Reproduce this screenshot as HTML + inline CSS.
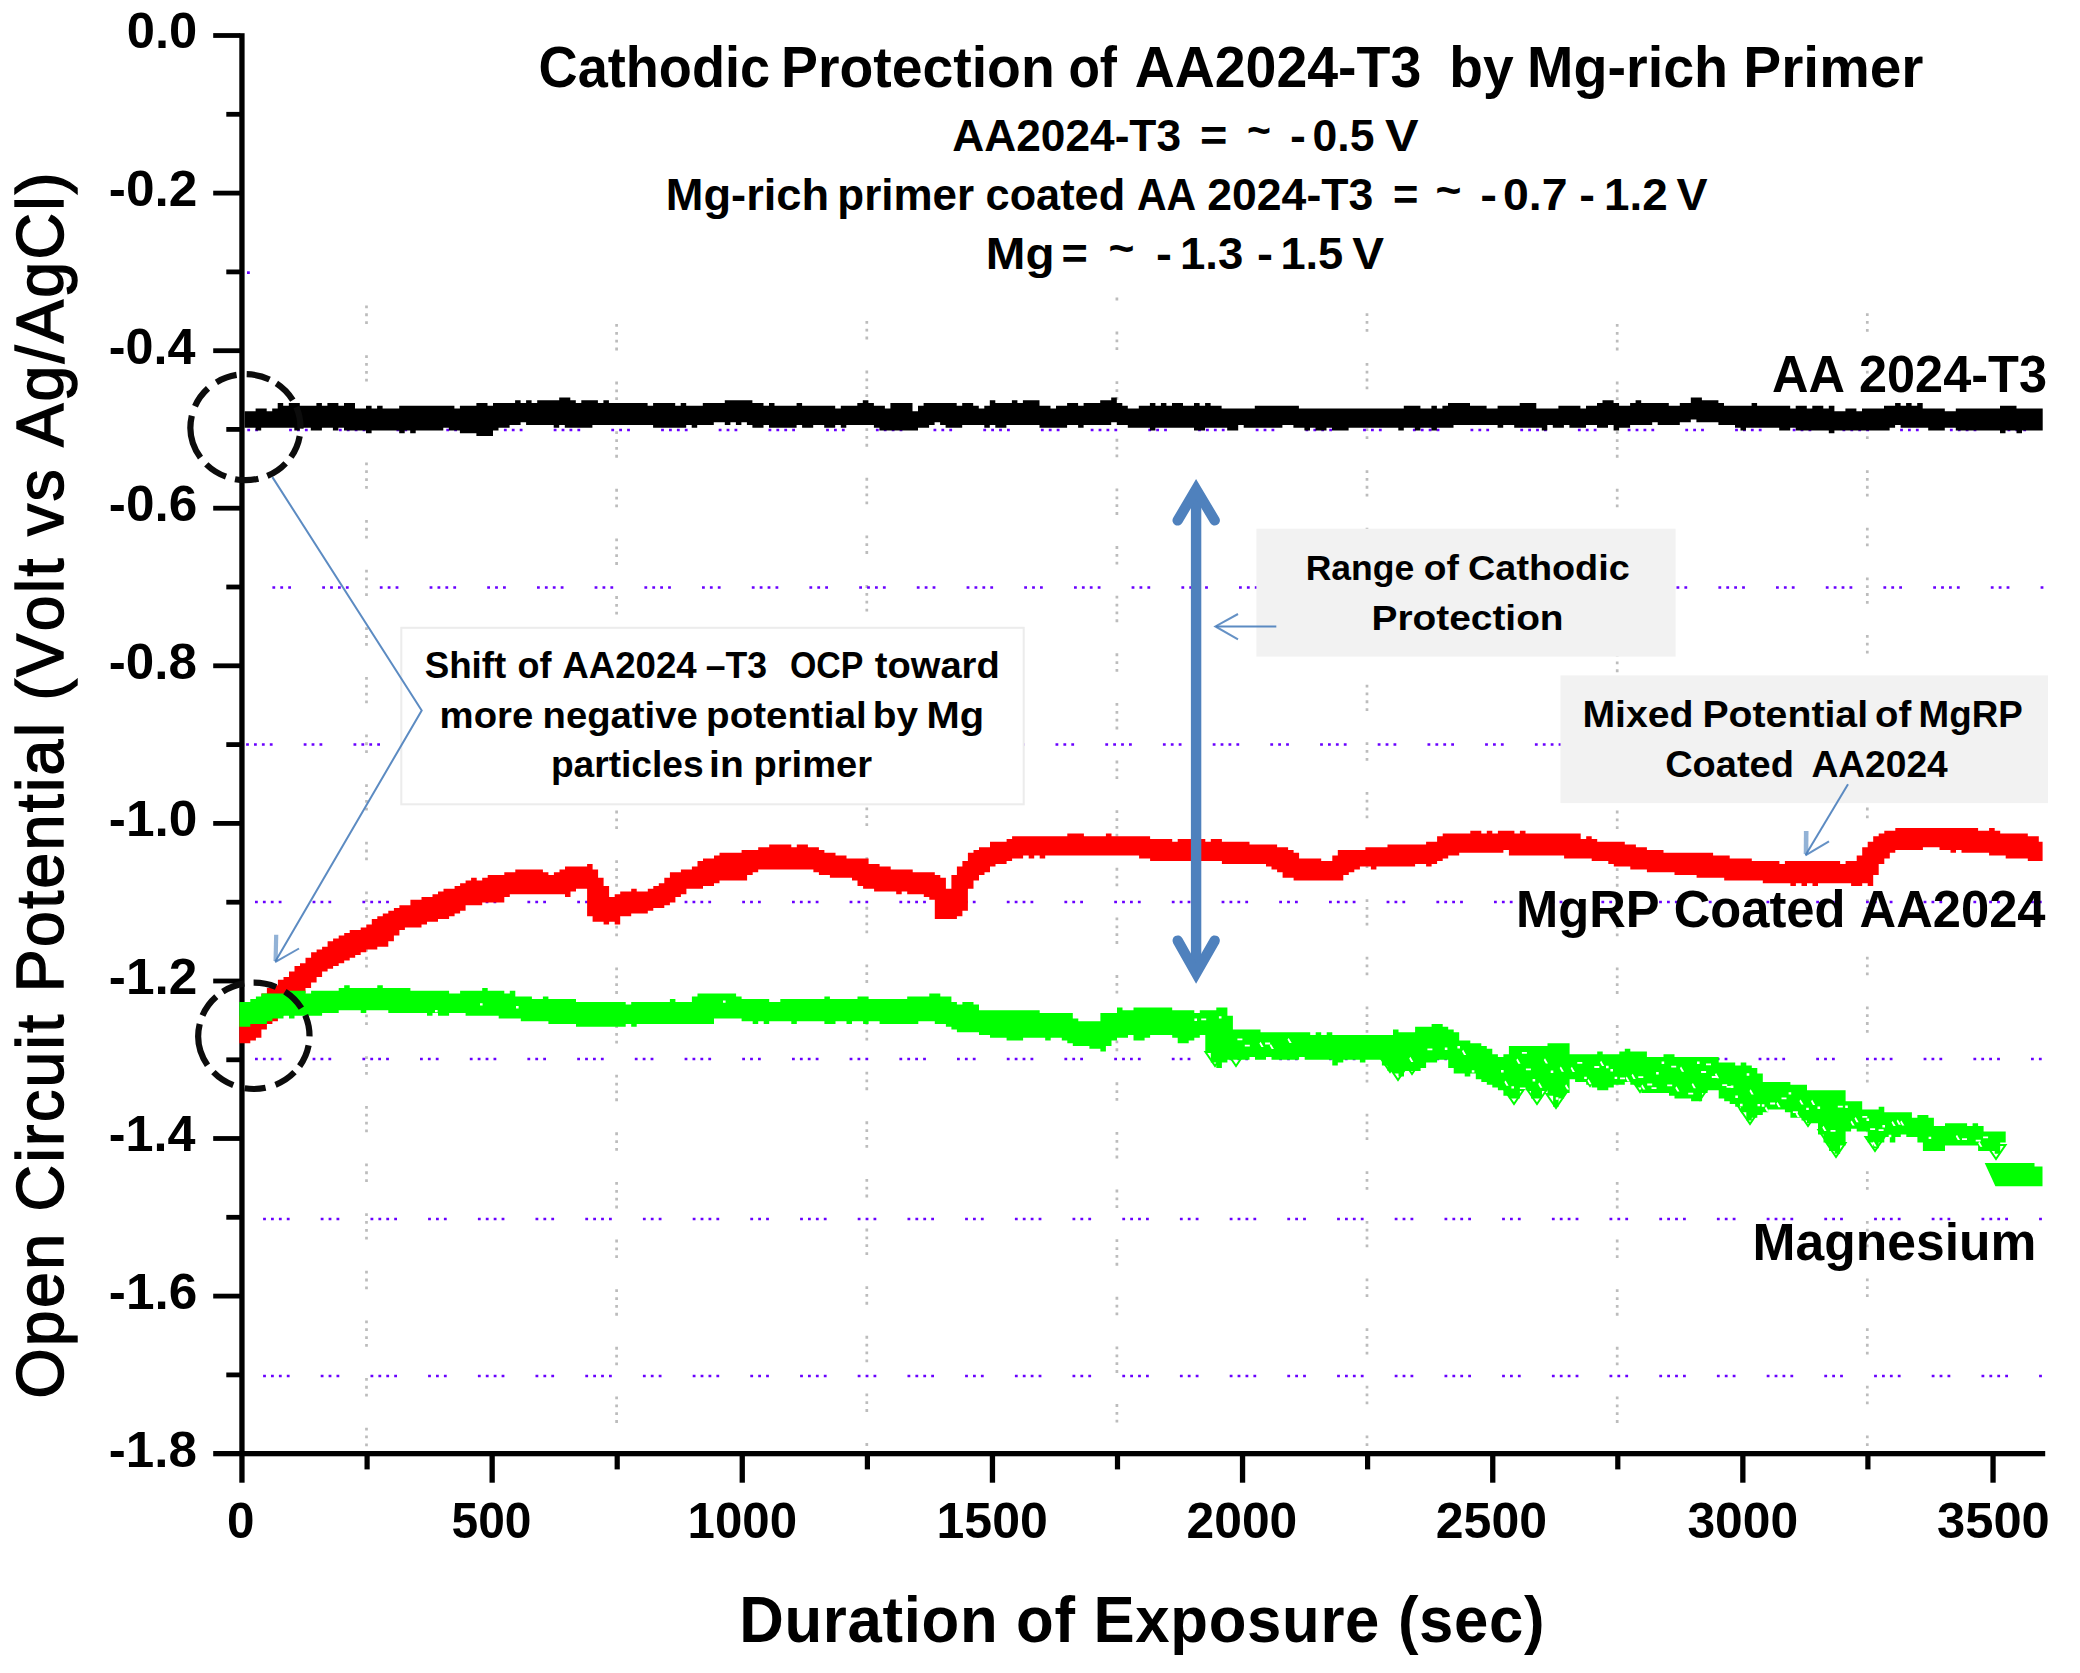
<!DOCTYPE html>
<html lang="en"><head><meta charset="utf-8"><title>Cathodic Protection of AA2024-T3 by Mg-rich Primer</title>
<style>html,body{margin:0;padding:0;background:#fff;width:2080px;height:1673px;overflow:hidden}svg{display:block}text{font-kerning:none}.ab{font-family:"Liberation Sans",Arial,sans-serif;font-weight:bold;fill:#000}.ar{font-family:"Liberation Sans",Arial,sans-serif;font-weight:normal;fill:#000}.cb{font-family:"Liberation Sans",Arial,sans-serif;font-weight:bold;fill:#000}</style></head><body>
<svg width="2080" height="1673" viewBox="0 0 2080 1673">
<rect width="2080" height="1673" fill="#fff"/>
<g id="grid" fill="none">
<line x1="366.5" y1="295.0" x2="366.5" y2="1451" stroke="#bcbcbc" stroke-width="2.7" stroke-dasharray="2.8 5.05 2.8 5.05 2.8 31.2 2.8 5.05 2.8 5.05 2.8 5.05 2.8 31.2" stroke-dashoffset="96.75"/>
<line x1="616.6" y1="295.0" x2="616.6" y2="1451" stroke="#bcbcbc" stroke-width="2.7" stroke-dasharray="2.8 5.05 2.8 5.05 2.8 31.2 2.8 5.05 2.8 5.05 2.8 5.05 2.8 31.2" stroke-dashoffset="20.65"/>
<line x1="866.8" y1="295.0" x2="866.8" y2="1451" stroke="#bcbcbc" stroke-width="2.7" stroke-dasharray="2.8 5.05 2.8 5.05 2.8 31.2 2.8 5.05 2.8 5.05 2.8 5.05 2.8 31.2" stroke-dashoffset="81.35"/>
<line x1="1116.9" y1="295.0" x2="1116.9" y2="1451" stroke="#bcbcbc" stroke-width="2.7" stroke-dasharray="2.8 5.05 2.8 5.05 2.8 31.2 2.8 5.05 2.8 5.05 2.8 5.05 2.8 31.2" stroke-dashoffset="70.65"/>
<line x1="1367.0" y1="295.0" x2="1367.0" y2="1451" stroke="#bcbcbc" stroke-width="2.7" stroke-dasharray="2.8 5.05 2.8 5.05 2.8 31.2 2.8 5.05 2.8 5.05 2.8 5.05 2.8 31.2" stroke-dashoffset="89.05"/>
<line x1="1617.2" y1="295.0" x2="1617.2" y2="1451" stroke="#bcbcbc" stroke-width="2.7" stroke-dasharray="2.8 5.05 2.8 5.05 2.8 31.2 2.8 5.05 2.8 5.05 2.8 5.05 2.8 31.2" stroke-dashoffset="20.65"/>
<line x1="1867.3" y1="295.0" x2="1867.3" y2="1451" stroke="#bcbcbc" stroke-width="2.7" stroke-dasharray="2.8 5.05 2.8 5.05 2.8 31.2 2.8 5.05 2.8 5.05 2.8 5.05 2.8 31.2" stroke-dashoffset="89.05"/>
<line x1="245.0" y1="430.0" x2="2045" y2="430.0" stroke="#6a00ff" stroke-width="2.7" stroke-dasharray="2.8 5.1 2.8 5.1 2.8 5.1 2.8 31.1 2.8 5.1 2.8 5.1 2.8 31.2" stroke-dashoffset="13.50"/>
<line x1="245.0" y1="587.5" x2="2045" y2="587.5" stroke="#6a00ff" stroke-width="2.7" stroke-dasharray="2.8 5.1 2.8 5.1 2.8 5.1 2.8 31.1 2.8 5.1 2.8 5.1 2.8 31.2" stroke-dashoffset="30.20"/>
<line x1="245.0" y1="744.5" x2="2045" y2="744.5" stroke="#6a00ff" stroke-width="2.7" stroke-dasharray="2.8 5.1 2.8 5.1 2.8 5.1 2.8 31.1 2.8 5.1 2.8 5.1 2.8 31.2" stroke-dashoffset="106.30"/>
<line x1="245.0" y1="902.0" x2="2045" y2="902.0" stroke="#6a00ff" stroke-width="2.7" stroke-dasharray="2.8 5.1 2.8 5.1 2.8 5.1 2.8 31.1 2.8 5.1 2.8 5.1 2.8 31.2" stroke-dashoffset="97.40"/>
<line x1="245.0" y1="1059.0" x2="2045" y2="1059.0" stroke="#6a00ff" stroke-width="2.7" stroke-dasharray="2.8 5.1 2.8 5.1 2.8 5.1 2.8 31.1 2.8 5.1 2.8 5.1 2.8 31.2" stroke-dashoffset="97.40"/>
<line x1="245.0" y1="1219.0" x2="2045" y2="1219.0" stroke="#6a00ff" stroke-width="2.7" stroke-dasharray="2.8 5.1 2.8 5.1 2.8 5.1 2.8 31.1 2.8 5.1 2.8 5.1 2.8 31.2" stroke-dashoffset="89.30"/>
<line x1="245.0" y1="1376.0" x2="2045" y2="1376.0" stroke="#6a00ff" stroke-width="2.7" stroke-dasharray="2.8 5.1 2.8 5.1 2.8 5.1 2.8 31.1 2.8 5.1 2.8 5.1 2.8 31.2" stroke-dashoffset="89.30"/>
<rect x="247" y="271.3" width="2.8" height="2.7" fill="#6a00ff"/>
</g>
<g id="axes" fill="#000">
<rect x="239.3" y="33.2" width="5.3" height="1449.5"/>
<rect x="213.2" y="1451" width="1832" height="5.3"/>
<rect x="213.2" y="33.1" width="27" height="4.8"/>
<rect x="226.3" y="111.9" width="14" height="4.8"/>
<rect x="213.2" y="190.7" width="27" height="4.8"/>
<rect x="226.3" y="269.5" width="14" height="4.8"/>
<rect x="213.2" y="348.3" width="27" height="4.8"/>
<rect x="226.3" y="427.0" width="14" height="4.8"/>
<rect x="213.2" y="505.8" width="27" height="4.8"/>
<rect x="226.3" y="584.6" width="14" height="4.8"/>
<rect x="213.2" y="663.4" width="27" height="4.8"/>
<rect x="226.3" y="742.2" width="14" height="4.8"/>
<rect x="213.2" y="821.0" width="27" height="4.8"/>
<rect x="226.3" y="899.8" width="14" height="4.8"/>
<rect x="213.2" y="978.6" width="27" height="4.8"/>
<rect x="226.3" y="1057.4" width="14" height="4.8"/>
<rect x="213.2" y="1136.1" width="27" height="4.8"/>
<rect x="226.3" y="1214.9" width="14" height="4.8"/>
<rect x="213.2" y="1293.7" width="27" height="4.8"/>
<rect x="226.3" y="1372.5" width="14" height="4.8"/>
<rect x="489.5" y="1455" width="5.3" height="27.7"/>
<rect x="739.6" y="1455" width="5.3" height="27.7"/>
<rect x="989.8" y="1455" width="5.3" height="27.7"/>
<rect x="1239.9" y="1455" width="5.3" height="27.7"/>
<rect x="1490.1" y="1455" width="5.3" height="27.7"/>
<rect x="1740.2" y="1455" width="5.3" height="27.7"/>
<rect x="1990.4" y="1455" width="5.3" height="27.7"/>
<rect x="364.5" y="1455" width="5.2" height="14.4"/>
<rect x="614.6" y="1455" width="5.2" height="14.4"/>
<rect x="864.8" y="1455" width="5.2" height="14.4"/>
<rect x="1114.9" y="1455" width="5.2" height="14.4"/>
<rect x="1365.0" y="1455" width="5.2" height="14.4"/>
<rect x="1615.2" y="1455" width="5.2" height="14.4"/>
<rect x="1865.3" y="1455" width="5.2" height="14.4"/>
</g>
<g id="data">
<path d="M244.6 411.2H250.1H255.6V408.5H261.2H266.7V411.2H272.2V408.5H277.7V403.0H283.2V405.7H288.8V403.0H294.3H299.8V405.7H305.3H310.8H316.4V403.0H321.9V405.7H327.4V403.0H332.9H338.4V405.7H344.0V403.0H349.5H355.0V408.5H360.5H366.0V405.7H371.6V408.5H377.1V405.7H382.6V408.5H388.1H393.6H399.2V405.7H404.7H410.2H415.7H421.2H426.8H432.3H437.8H443.3H448.8H454.4V408.5H459.9V405.7H465.4H470.9H476.4V403.0H482.0H487.5V405.7H493.0V403.0H498.5H504.0H509.6H515.1V400.2H520.6V403.0H526.1V400.2H531.6V403.0H537.2V400.2H542.7H548.2H553.7H559.2V397.4H564.8H570.3V400.2H575.8V403.0H581.3V400.2H586.8H592.4H597.9V403.0H603.4V400.2H608.9V403.0H614.4H620.0H625.5H631.0H636.5H642.0H647.6V405.7H653.1V403.0H658.6H664.1H669.6H675.2V405.7H680.7V403.0H686.2V405.7H691.7H697.2H702.8V403.0H708.3H713.8H719.3H724.8V400.2H730.4H735.9H741.4H746.9H752.4V403.0H758.0H763.5V405.7H769.0V403.0H774.5V405.7H780.0H785.6H791.1H796.6V403.0H802.1V405.7H807.6H813.2H818.7H824.2H829.7H835.2V408.5H840.8V405.7H846.3H851.8H857.3V403.0H862.8V400.2H868.4V403.0H873.9V405.7H879.4H884.9V408.5H890.4V403.0H896.0H901.5H907.0H912.5V411.2H918.0V405.7H923.6V403.0H929.1H934.6H940.1H945.6H951.2H956.7V405.7H962.2V403.0H967.7H973.2V405.7H978.8V408.5H984.3V405.7H989.8V400.2H995.3V403.0H1000.8H1006.4H1011.9V400.2H1017.4V403.0H1022.9V400.2H1028.4H1034.0H1039.5V405.7H1045.0H1050.5V408.5H1056.0V405.7H1061.6H1067.1V403.0H1072.6H1078.1V405.7H1083.6V403.0H1089.2H1094.7H1100.2V400.2H1105.7H1111.2V397.4H1116.8V403.0H1122.3V405.7H1127.8V408.5H1133.3H1138.8V405.7H1144.4H1149.9V403.0H1155.4V405.7H1160.9V403.0H1166.4V405.7H1172.0V403.0H1177.5H1183.0V405.7H1188.5H1194.0V403.0H1199.6V405.7H1205.1V403.0H1210.6V405.7H1216.1H1221.6V408.5H1227.2H1232.7H1238.2H1243.7H1249.2H1254.8V405.7H1260.3H1265.8H1271.3H1276.8H1282.4H1287.9H1293.4H1298.9V408.5H1304.4H1310.0H1315.5H1321.0H1326.5H1332.0H1337.6H1343.1H1348.6H1354.1H1359.6H1365.2H1370.7H1376.2H1381.7H1387.2H1392.8H1398.3H1403.8V405.7H1409.3H1414.8H1420.4V408.5H1425.9H1431.4V405.7H1436.9V408.5H1442.4V405.7H1448.0V403.0H1453.5H1459.0H1464.5H1470.0V405.7H1475.6H1481.1H1486.6V408.5H1492.1H1497.6V405.7H1503.2H1508.7H1514.2H1519.7V403.0H1525.2H1530.8H1536.3V408.5H1541.8H1547.3H1552.8H1558.4V405.7H1563.9H1569.4H1574.9H1580.4V408.5H1586.0V405.7H1591.5H1597.0V403.0H1602.5V400.2H1608.0H1613.6V403.0H1619.1V405.7H1624.6H1630.1V403.0H1635.6V400.2H1641.2V403.0H1646.7H1652.2H1657.7H1663.2H1668.8V405.7H1674.3H1679.8V403.0H1685.3H1690.8V397.4H1696.4H1701.9V400.2H1707.4H1712.9H1718.4V403.0H1724.0V405.7H1729.5H1735.0H1740.5H1746.0H1751.6V403.0H1757.1V405.7H1762.6H1768.1H1773.6H1779.2H1784.7H1790.2V408.5H1795.7V405.7H1801.2H1806.8V408.5H1812.3V405.7H1817.8H1823.3V408.5H1828.8V405.7H1834.4V411.2H1839.9H1845.4V408.5H1850.9H1856.4V411.2H1862.0V408.5H1867.5H1873.0H1878.5H1884.0V405.7H1889.6H1895.1V403.0H1900.6V405.7H1906.1V403.0H1911.6V405.7H1917.2V403.0H1922.7V408.5H1928.2H1933.7H1939.2H1944.8V411.2H1950.3H1955.8V408.5H1961.3H1966.8H1972.4H1977.9H1983.4H1988.9H1994.4H2000.0V405.7H2005.5H2011.0H2016.5V408.5H2022.0H2027.6H2033.1H2038.6H2042.7V430.6H2038.6H2033.1H2027.6H2022.0V433.3H2016.5V430.6H2011.0H2005.5V433.3H2000.0V430.6H1994.4H1988.9H1983.4H1977.9H1972.4H1966.8H1961.3H1955.8V427.8H1950.3H1944.8V430.6H1939.2H1933.7H1928.2V427.8H1922.7H1917.2H1911.6H1906.1H1900.6V425.0H1895.1V427.8H1889.6V430.6H1884.0H1878.5H1873.0H1867.5H1862.0H1856.4H1850.9H1845.4H1839.9H1834.4V433.3H1828.8V430.6H1823.3H1817.8H1812.3H1806.8H1801.2H1795.7V427.8H1790.2V430.6H1784.7H1779.2V427.8H1773.6H1768.1H1762.6H1757.1H1751.6H1746.0V430.6H1740.5V427.8H1735.0V425.0H1729.5H1724.0H1718.4V422.3H1712.9H1707.4H1701.9H1696.4V419.5H1690.8V422.3H1685.3H1679.8V425.0H1674.3H1668.8H1663.2H1657.7V422.3H1652.2V425.0H1646.7H1641.2H1635.6H1630.1V427.8H1624.6H1619.1V430.6H1613.6V425.0H1608.0V427.8H1602.5H1597.0V425.0H1591.5H1586.0V427.8H1580.4H1574.9H1569.4V425.0H1563.9V427.8H1558.4H1552.8V425.0H1547.3V430.6H1541.8V427.8H1536.3H1530.8H1525.2H1519.7H1514.2V425.0H1508.7H1503.2V427.8H1497.6V425.0H1492.1H1486.6H1481.1H1475.6H1470.0H1464.5H1459.0H1453.5V427.8H1448.0H1442.4H1436.9V430.6H1431.4V427.8H1425.9H1420.4V430.6H1414.8V427.8H1409.3H1403.8V430.6H1398.3V427.8H1392.8H1387.2H1381.7H1376.2H1370.7H1365.2H1359.6H1354.1H1348.6V430.6H1343.1H1337.6H1332.0V427.8H1326.5V430.6H1321.0H1315.5V427.8H1310.0V430.6H1304.4V427.8H1298.9H1293.4V425.0H1287.9H1282.4V427.8H1276.8H1271.3H1265.8H1260.3H1254.8H1249.2H1243.7V425.0H1238.2V430.6H1232.7H1227.2V427.8H1221.6H1216.1H1210.6H1205.1V430.6H1199.6H1194.0V427.8H1188.5H1183.0H1177.5H1172.0H1166.4H1160.9H1155.4V430.6H1149.9V427.8H1144.4H1138.8H1133.3H1127.8V425.0H1122.3H1116.8V422.3H1111.2V425.0H1105.7H1100.2H1094.7H1089.2H1083.6V427.8H1078.1V425.0H1072.6H1067.1V427.8H1061.6H1056.0H1050.5H1045.0H1039.5V425.0H1034.0H1028.4H1022.9H1017.4H1011.9H1006.4V427.8H1000.8H995.3V425.0H989.8V427.8H984.3V425.0H978.8H973.2H967.7H962.2V427.8H956.7H951.2H945.6V425.0H940.1V422.3H934.6V425.0H929.1V427.8H923.6H918.0V430.6H912.5H907.0H901.5H896.0H890.4H884.9H879.4V427.8H873.9V425.0H868.4H862.8H857.3H851.8H846.3V427.8H840.8V425.0H835.2V427.8H829.7H824.2V425.0H818.7H813.2V427.8H807.6H802.1V425.0H796.6V427.8H791.1H785.6H780.0H774.5H769.0V425.0H763.5V427.8H758.0H752.4V425.0H746.9V422.3H741.4V425.0H735.9V422.3H730.4V425.0H724.8V422.3H719.3H713.8V425.0H708.3H702.8H697.2V427.8H691.7V425.0H686.2V427.8H680.7H675.2H669.6H664.1H658.6H653.1V425.0H647.6H642.0H636.5H631.0H625.5H620.0H614.4H608.9H603.4H597.9H592.4V427.8H586.8H581.3H575.8H570.3H564.8V425.0H559.2V427.8H553.7V425.0H548.2H542.7H537.2H531.6H526.1V422.3H520.6V425.0H515.1H509.6V427.8H504.0H498.5V430.6H493.0V436.1H487.5H482.0H476.4V433.3H470.9H465.4H459.9V430.6H454.4H448.8V427.8H443.3V430.6H437.8H432.3H426.8H421.2H415.7V433.3H410.2V430.6H404.7V433.3H399.2V430.6H393.6H388.1H382.6H377.1H371.6V433.3H366.0V430.6H360.5H355.0H349.5H344.0V427.8H338.4V430.6H332.9V427.8H327.4H321.9V430.6H316.4H310.8V427.8H305.3H299.8V430.6H294.3V427.8H288.8H283.2H277.7H272.2H266.7H261.2V430.6H255.6V427.8H250.1H244.6Z" fill="#000"/>
<path d="M239.3 1015.7H244.8V1012.9H250.3V1007.4H255.9V1001.9H261.4V993.6H266.9V988.1H272.4V985.3H277.9V979.8H283.5V977.0H289.0V971.5H294.5V966.0H300.0V963.2H305.5V957.7H311.1V952.2H316.6V949.4H322.1V946.7H327.6V941.2H333.1V938.4H338.7V935.6H344.2V932.9H349.7V930.1H355.2H360.7V927.4H366.3V924.6H371.8V919.1H377.3V916.3H382.8V913.6H388.3V910.8H393.9V908.0H399.4V905.3H404.9H410.4V899.8H415.9H421.5V897.0H427.0H432.5V894.2H438.0V891.5H443.5V888.7H449.1H454.6V886.0H460.1V883.2H465.6V880.4H471.1V877.7H476.7V880.4H482.2V877.7H487.7V874.9H493.2H498.7H504.3V872.2H509.8H515.3V869.4H520.8H526.3H531.9H537.4H542.9V872.2H548.4V874.9H553.9V872.2H559.5V869.4H565.0V866.6H570.5H576.0H581.5H587.1V863.9H592.6V869.4H598.1V877.7H603.6V886.0H609.1V897.0H614.7V894.2H620.2V891.5H625.7H631.2V888.7H636.7V891.5H642.3H647.8V888.7H653.3V886.0H658.8V883.2H664.3V877.7H669.9V872.2H675.4H680.9V869.4H686.4H691.9V866.6H697.5V861.1H703.0V858.4H708.5H714.0V855.6H719.5V852.8H725.1H730.6H736.1H741.6V850.1H747.1H752.7H758.2V847.3H763.7H769.2V844.6H774.7H780.3H785.8H791.3V847.3H796.8V844.6H802.3H807.9V847.3H813.4H818.9V850.1H824.4V852.8H829.9H835.5V855.6H841.0H846.5V858.4H852.0H857.5H863.1H868.6V863.9H874.1H879.6V866.6H885.1H890.7V869.4H896.2H901.7H907.2H912.7V872.2H918.3H923.8H929.3H934.8V874.9H940.3V877.7H945.9V888.7H951.4V874.9H956.9V866.6H962.4V861.1H967.9V852.8H973.5V850.1H979.0V847.3H984.5H990.0V841.8H995.5H1001.1H1006.6V839.0H1012.1V836.3H1017.6H1023.1H1028.7H1034.2H1039.7H1045.2H1050.7H1056.3H1061.8H1067.3V833.5H1072.8H1078.3H1083.9V836.3H1089.4H1094.9H1100.4H1105.9V833.5H1111.5V836.3H1117.0H1122.5H1128.0H1133.5H1139.1H1144.6H1150.1V839.0H1155.6H1161.1H1166.7H1172.2V841.8H1177.7V839.0H1183.2H1188.7H1194.3H1199.8H1205.3V841.8H1210.8V839.0H1216.3H1221.9V841.8H1227.4H1232.9H1238.4H1243.9H1249.5V844.6H1255.0H1260.5H1266.0H1271.5H1277.1V847.3H1282.6H1288.1V850.1H1293.6V852.8H1299.1V858.4H1304.7H1310.2H1315.7H1321.2V861.1H1326.7H1332.3V855.6H1337.8V850.1H1343.3H1348.8H1354.3H1359.9H1365.4V847.3H1370.9H1376.4H1381.9H1387.5V844.6H1393.0H1398.5H1404.0H1409.5H1415.1H1420.6H1426.1V841.8H1431.6H1437.1V836.3H1442.7V833.5H1448.2H1453.7H1459.2H1464.7H1470.3V830.8H1475.8H1481.3V833.5H1486.8V830.8H1492.3V833.5H1497.9V830.8H1503.4H1508.9H1514.4V833.5H1519.9V830.8H1525.5V833.5H1531.0H1536.5H1542.0H1547.5H1553.1H1558.6H1564.1H1569.6H1575.1H1580.7V839.0H1586.2V836.3H1591.7V839.0H1597.2V841.8H1602.7H1608.3H1613.8H1619.3H1624.8V844.6H1630.3H1635.9V847.3H1641.4H1646.9V850.1H1652.4H1657.9H1663.5V852.8H1669.0H1674.5H1680.0H1685.5H1691.1H1696.6H1702.1H1707.6H1713.1V855.6H1718.7H1724.2H1729.7V858.4H1735.2H1740.7H1746.3H1751.8V861.1H1757.3H1762.8H1768.3H1773.9H1779.4V863.9H1784.9V861.1H1790.4H1795.9H1801.5H1807.0H1812.5H1818.0H1823.5H1829.1H1834.6H1840.1V863.9H1845.6V861.1H1851.1H1856.7V855.6H1862.2V847.3H1867.7V841.8H1873.2V836.3H1878.7V833.5H1884.3V830.8H1889.8H1895.3V828.0H1900.8H1906.3H1911.9H1917.4H1922.9H1928.4H1933.9H1939.5H1945.0H1950.5H1956.0H1961.5H1967.1H1972.6H1978.1V830.8H1983.6H1989.1V828.0H1994.7V830.8H2000.2V833.5H2005.7H2011.2H2016.7H2022.3H2027.8V836.3H2033.3H2038.8V841.8H2042.6V861.1H2038.8H2033.3H2027.8V858.4H2022.3H2016.7H2011.2H2005.7V855.6H2000.2H1994.7H1989.1V852.8H1983.6H1978.1H1972.6H1967.1H1961.5V850.1H1956.0V852.8H1950.5V850.1H1945.0H1939.5V847.3H1933.9H1928.4H1922.9V850.1H1917.4H1911.9H1906.3H1900.8H1895.3V852.8H1889.8V858.4H1884.3V863.9H1878.7V874.9H1873.2V886.0H1867.7V883.2H1862.2V886.0H1856.7H1851.1V883.2H1845.6H1840.1H1834.6H1829.1H1823.5H1818.0V886.0H1812.5V883.2H1807.0V886.0H1801.5V883.2H1795.9V886.0H1790.4V883.2H1784.9H1779.4H1773.9H1768.3H1762.8V880.4H1757.3H1751.8H1746.3H1740.7H1735.2H1729.7H1724.2V877.7H1718.7H1713.1H1707.6H1702.1H1696.6V874.9H1691.1H1685.5H1680.0H1674.5V872.2H1669.0H1663.5H1657.9H1652.4H1646.9V869.4H1641.4H1635.9H1630.3V866.6H1624.8H1619.3H1613.8V863.9H1608.3V861.1H1602.7H1597.2H1591.7V858.4H1586.2H1580.7H1575.1H1569.6H1564.1V855.6H1558.6H1553.1H1547.5H1542.0H1536.5H1531.0H1525.5H1519.9H1514.4H1508.9V850.1H1503.4V852.8H1497.9H1492.3H1486.8H1481.3H1475.8H1470.3H1464.7H1459.2V855.6H1453.7H1448.2V858.4H1442.7V861.1H1437.1V863.9H1431.6V866.6H1426.1V863.9H1420.6H1415.1V866.6H1409.5H1404.0H1398.5H1393.0H1387.5H1381.9H1376.4V869.4H1370.9V866.6H1365.4H1359.9V869.4H1354.3V872.2H1348.8V874.9H1343.3V880.4H1337.8H1332.3H1326.7H1321.2H1315.7H1310.2H1304.7H1299.1H1293.6V877.7H1288.1H1282.6V872.2H1277.1V869.4H1271.5V866.6H1266.0V863.9H1260.5H1255.0H1249.5H1243.9H1238.4H1232.9H1227.4H1221.9V861.1H1216.3H1210.8H1205.3H1199.8H1194.3H1188.7H1183.2H1177.7H1172.2H1166.7H1161.1H1155.6H1150.1V858.4H1144.6H1139.1V855.6H1133.5H1128.0H1122.5H1117.0H1111.5H1105.9H1100.4H1094.9H1089.4H1083.9H1078.3H1072.8H1067.3H1061.8H1056.3H1050.7H1045.2V858.4H1039.7V855.6H1034.2V858.4H1028.7V855.6H1023.1V858.4H1017.6H1012.1V861.1H1006.6V863.9H1001.1H995.5V866.6H990.0V872.2H984.5V874.9H979.0V880.4H973.5V888.7H967.9V910.8H962.4V916.3H956.9V919.1H951.4H945.9H940.3H934.8V899.8H929.3V897.0H923.8V894.2H918.3H912.7H907.2V891.5H901.7V894.2H896.2V891.5H890.7H885.1H879.6H874.1V888.7H868.6H863.1V886.0H857.5V880.4H852.0V877.7H846.5H841.0H835.5H829.9V874.9H824.4H818.9V872.2H813.4V869.4H807.9H802.3H796.8H791.3H785.8H780.3H774.7H769.2H763.7H758.2V872.2H752.7V874.9H747.1V880.4H741.6H736.1H730.6H725.1H719.5V883.2H714.0V886.0H708.5H703.0V888.7H697.5H691.9H686.4V894.2H680.9V897.0H675.4V902.5H669.9V905.3H664.3V908.0H658.8H653.3V910.8H647.8V913.6H642.3H636.7H631.2V916.3H625.7H620.2V924.6H614.7V921.8H609.1V924.6H603.6V921.8H598.1H592.6V916.3H587.1V888.7H581.5H576.0V891.5H570.5V897.0H565.0V894.2H559.5H553.9H548.4H542.9H537.4H531.9H526.3H520.8H515.3H509.8V897.0H504.3V902.5H498.7H493.2H487.7H482.2V905.3H476.7H471.1H465.6V910.8H460.1V913.6H454.6V916.3H449.1V919.1H443.5H438.0V921.8H432.5H427.0V924.6H421.5V927.4H415.9H410.4H404.9V930.1H399.4V935.6H393.9V941.2H388.3V946.7H382.8H377.3V949.4H371.8H366.3V952.2H360.7V955.0H355.2V957.7H349.7V960.5H344.2V963.2H338.7V966.0H333.1V968.8H327.6V971.5H322.1V977.0H316.6V982.6H311.1V988.1H305.5V993.6H300.0V999.1H294.5V1004.6H289.0V1010.2H283.5V1015.7H277.9V1021.2H272.4V1024.0H266.9V1029.5H261.4V1037.8H255.9V1040.5H250.3V1043.3H244.8H239.3Z" fill="#f00"/>
<path d="M239.3 1001.9H244.8H250.3V999.1H255.9V996.4H261.4V993.6H266.9H272.4H277.9H283.5H289.0V990.8H294.5H300.0H305.5V993.6H311.1V990.8H316.6H322.1H327.6H333.1H338.7V988.1H344.2V985.3H349.7V988.1H355.2H360.7H366.3H371.8H377.3V985.3H382.8V988.1H388.3H393.9H399.4H404.9H410.4V990.8H415.9H421.5H427.0H432.5H438.0H443.5H449.1V993.6H454.6H460.1V990.8H465.6H471.1H476.7H482.2V988.1H487.7V990.8H493.2H498.7H504.3V993.6H509.8V990.8H515.3V996.4H520.8H526.3H531.9V999.1H537.4H542.9V996.4H548.4V999.1H553.9H559.5H565.0H570.5H576.0V1001.9H581.5H587.1H592.6H598.1H603.6H609.1H614.7H620.2H625.7V1004.6H631.2V1001.9H636.7H642.3H647.8H653.3H658.8H664.3H669.9V999.1H675.4V1001.9H680.9H686.4H691.9V996.4H697.5V993.6H703.0H708.5H714.0H719.5H725.1H730.6H736.1V996.4H741.6V999.1H747.1H752.7H758.2H763.7H769.2V1001.9H774.7H780.3V999.1H785.8H791.3H796.8H802.3H807.9H813.4H818.9H824.4V996.4H829.9V999.1H835.5H841.0H846.5H852.0H857.5V996.4H863.1H868.6V999.1H874.1H879.6H885.1H890.7H896.2H901.7H907.2V996.4H912.7H918.3H923.8H929.3V993.6H934.8H940.3V996.4H945.9H951.4V1001.9H956.9V1004.6H962.4V1001.9H967.9H973.5V1004.6H979.0V1010.2H984.5H990.0H995.5H1001.1H1006.6H1012.1H1017.6H1023.1H1028.7H1034.2H1039.7V1012.9H1045.2H1050.7H1056.3H1061.8H1067.3H1072.8V1018.4H1078.3V1021.2H1083.9H1089.4H1094.9H1100.4V1012.9H1105.9H1111.5H1117.0V1007.4H1122.5V1010.2H1128.0H1133.5V1007.4H1139.1H1144.6H1150.1H1155.6H1161.1H1166.7H1172.2V1010.2H1177.7H1183.2H1188.7H1194.3V1012.9H1199.8V1010.2H1205.3H1210.8H1216.3V1007.4H1221.9H1227.4V1015.7H1232.9V1029.5H1238.4H1243.9H1249.5H1255.0H1260.5V1032.2H1266.0H1271.5H1277.1H1282.6H1288.1H1293.6H1299.1H1304.7H1310.2V1035.0H1315.7V1032.2H1321.2V1035.0H1326.7V1032.2H1332.3V1035.0H1337.8H1343.3H1348.8H1354.3H1359.9H1365.4H1370.9H1376.4H1381.9H1387.5H1393.0V1029.5H1398.5V1032.2H1404.0H1409.5H1415.1V1026.7H1420.6H1426.1H1431.6V1024.0H1437.1H1442.7V1026.7H1448.2V1029.5H1453.7V1032.2H1459.2V1040.5H1464.7H1470.3V1043.3H1475.8H1481.3V1046.0H1486.8V1048.8H1492.3V1054.3H1497.9V1057.1H1503.4V1054.3H1508.9V1046.0H1514.4H1519.9H1525.5H1531.0H1536.5H1542.0H1547.5V1043.3H1553.1H1558.6H1564.1H1569.6V1054.3H1575.1H1580.7H1586.2H1591.7H1597.2V1051.6H1602.7V1054.3H1608.3H1613.8H1619.3V1051.6H1624.8V1048.8H1630.3V1051.6H1635.9H1641.4H1646.9V1057.1H1652.4H1657.9H1663.5V1054.3H1669.0H1674.5V1057.1H1680.0H1685.5H1691.1H1696.6H1702.1H1707.6H1713.1H1718.7V1062.6H1724.2H1729.7H1735.2V1065.4H1740.7V1062.6H1746.3V1065.4H1751.8V1068.1H1757.3V1073.6H1762.8V1081.9H1768.3H1773.9H1779.4H1784.9H1790.4V1084.7H1795.9H1801.5H1807.0V1090.2H1812.5H1818.0H1823.5H1829.1H1834.6H1840.1H1845.6V1101.2H1851.1H1856.7H1862.2V1109.5H1867.7H1873.2H1878.7V1106.8H1884.3V1112.3H1889.8H1895.3H1900.8H1906.3H1911.9V1117.8H1917.4V1115.0H1922.9H1928.4V1117.8H1933.9V1126.1H1939.5H1945.0V1123.3H1950.5H1956.0H1961.5H1967.1V1126.1H1972.6V1123.3H1978.1V1126.1H1983.6V1131.6H1989.1H1994.7H2000.2H2005.7V1134.4H2007.5V1134.4H2005.7V1142.6H2000.2V1153.7H1994.7V1150.9H1989.1H1983.6H1978.1V1145.4H1972.6H1967.1H1961.5H1956.0H1950.5H1945.0V1150.9H1939.5H1933.9H1928.4H1922.9V1142.6H1917.4V1137.1H1911.9H1906.3V1134.4H1900.8V1137.1H1895.3V1142.6H1889.8V1137.1H1884.3V1142.6H1878.7V1148.2H1873.2V1142.6H1867.7V1131.6H1862.2H1856.7V1128.8H1851.1V1131.6H1845.6V1145.4H1840.1V1153.7H1834.6V1150.9H1829.1V1142.6H1823.5V1134.4H1818.0V1123.3H1812.5H1807.0V1120.6H1801.5V1117.8H1795.9H1790.4V1112.3H1784.9V1109.5H1779.4H1773.9H1768.3V1112.3H1762.8V1115.0H1757.3V1117.8H1751.8V1120.6H1746.3V1112.3H1740.7V1106.8H1735.2V1104.0H1729.7V1101.2H1724.2V1098.5H1718.7V1090.2H1713.1H1707.6V1093.0H1702.1V1101.2H1696.6H1691.1V1098.5H1685.5H1680.0H1674.5V1095.7H1669.0V1093.0H1663.5H1657.9H1652.4H1646.9H1641.4V1087.4H1635.9V1084.7H1630.3V1081.9H1624.8V1084.7H1619.3H1613.8V1087.4H1608.3V1090.2H1602.7H1597.2V1087.4H1591.7V1084.7H1586.2V1081.9H1580.7H1575.1V1079.2H1569.6V1093.0H1564.1V1098.5H1558.6V1106.8H1553.1V1095.7H1547.5V1090.2H1542.0V1098.5H1536.5H1531.0V1090.2H1525.5V1087.4H1519.9V1098.5H1514.4H1508.9V1095.7H1503.4V1090.2H1497.9V1087.4H1492.3V1084.7H1486.8V1081.9H1481.3V1079.2H1475.8V1073.6H1470.3V1076.4H1464.7V1073.6H1459.2H1453.7V1068.1H1448.2V1059.8H1442.7H1437.1V1062.6H1431.6H1426.1V1068.1H1420.6V1070.9H1415.1H1409.5H1404.0V1076.4H1398.5V1073.6H1393.0V1070.9H1387.5V1065.4H1381.9V1059.8H1376.4H1370.9H1365.4V1062.6H1359.9V1059.8H1354.3H1348.8H1343.3V1062.6H1337.8V1065.4H1332.3V1059.8H1326.7H1321.2H1315.7H1310.2H1304.7V1057.1H1299.1V1059.8H1293.6H1288.1H1282.6H1277.1H1271.5V1057.1H1266.0V1059.8H1260.5H1255.0V1057.1H1249.5V1059.8H1243.9H1238.4H1232.9H1227.4V1062.6H1221.9V1068.1H1216.3V1062.6H1210.8V1051.6H1205.3V1035.0H1199.8V1037.8H1194.3V1040.5H1188.7V1043.3H1183.2H1177.7V1037.8H1172.2V1035.0H1166.7H1161.1H1155.6H1150.1V1037.8H1144.6V1040.5H1139.1H1133.5V1035.0H1128.0V1037.8H1122.5H1117.0V1040.5H1111.5V1046.0H1105.9V1051.6H1100.4V1048.8H1094.9H1089.4V1046.0H1083.9H1078.3H1072.8V1043.3H1067.3V1040.5H1061.8V1037.8H1056.3H1050.7V1040.5H1045.2V1037.8H1039.7H1034.2H1028.7H1023.1V1040.5H1017.6H1012.1H1006.6V1037.8H1001.1H995.5H990.0V1035.0H984.5H979.0V1032.2H973.5H967.9H962.4H956.9V1029.5H951.4V1026.7H945.9V1024.0H940.3H934.8V1021.2H929.3H923.8H918.3V1024.0H912.7H907.2H901.7H896.2H890.7H885.1H879.6V1021.2H874.1H868.6V1024.0H863.1V1021.2H857.5H852.0V1024.0H846.5V1021.2H841.0H835.5V1024.0H829.9H824.4V1021.2H818.9H813.4H807.9H802.3H796.8V1024.0H791.3V1021.2H785.8H780.3H774.7H769.2V1024.0H763.7V1021.2H758.2V1024.0H752.7V1021.2H747.1H741.6V1018.4H736.1H730.6H725.1H719.5H714.0V1024.0H708.5H703.0H697.5H691.9H686.4H680.9H675.4H669.9H664.3H658.8H653.3H647.8H642.3H636.7V1026.7H631.2V1024.0H625.7V1026.7H620.2H614.7H609.1H603.6H598.1H592.6H587.1H581.5H576.0V1024.0H570.5H565.0H559.5H553.9H548.4V1021.2H542.9H537.4H531.9H526.3H520.8V1018.4H515.3H509.8H504.3H498.7V1015.7H493.2H487.7H482.2H476.7H471.1H465.6V1012.9H460.1H454.6H449.1V1015.7H443.5H438.0V1012.9H432.5V1015.7H427.0V1012.9H421.5H415.9H410.4H404.9H399.4H393.9H388.3V1010.2H382.8H377.3H371.8H366.3V1012.9H360.7V1010.2H355.2H349.7H344.2H338.7V1012.9H333.1H327.6H322.1V1015.7H316.6H311.1H305.5H300.0H294.5V1018.4H289.0V1015.7H283.5V1018.4H277.9H272.4V1021.2H266.9V1024.0H261.4H255.9H250.3V1026.7H244.8H239.3Z" fill="#0f0"/>
<path d="M1984.7 1162.9H2034.5V1166.4H2042.5V1186.3H1995.4Z" fill="#0f0"/>
<path d="M1218.5 1040.0h19l-9.5 14z" fill="none" stroke="#0f0" stroke-width="2"/>
<path d="M1226.5 1052.0h19l-9.5 14z" fill="none" stroke="#0f0" stroke-width="2"/>
<path d="M1205.5 1052.0h19l-9.5 14z" fill="none" stroke="#0f0" stroke-width="2"/>
<path d="M1388.5 1066.0h19l-9.5 14z" fill="none" stroke="#0f0" stroke-width="2"/>
<path d="M1402.5 1060.0h19l-9.5 14z" fill="none" stroke="#0f0" stroke-width="2"/>
<path d="M1380.5 1058.0h19l-9.5 14z" fill="none" stroke="#0f0" stroke-width="2"/>
<path d="M1504.5 1090.0h19l-9.5 14z" fill="none" stroke="#0f0" stroke-width="2"/>
<path d="M1527.5 1090.0h19l-9.5 14z" fill="none" stroke="#0f0" stroke-width="2"/>
<path d="M1546.5 1094.0h19l-9.5 14z" fill="none" stroke="#0f0" stroke-width="2"/>
<path d="M1740.5 1110.0h19l-9.5 14z" fill="none" stroke="#0f0" stroke-width="2"/>
<path d="M1826.5 1143.0h19l-9.5 14z" fill="none" stroke="#0f0" stroke-width="2"/>
<path d="M1818.5 1130.0h19l-9.5 14z" fill="none" stroke="#0f0" stroke-width="2"/>
<path d="M1865.5 1137.0h19l-9.5 14z" fill="none" stroke="#0f0" stroke-width="2"/>
<path d="M1986.5 1145.0h19l-9.5 14z" fill="none" stroke="#0f0" stroke-width="2"/>
<path d="M1580.5 1072.0h19l-9.5 14z" fill="none" stroke="#0f0" stroke-width="2"/>
<path d="M1630.5 1078.0h19l-9.5 14z" fill="none" stroke="#0f0" stroke-width="2"/>
<path d="M1690.5 1086.0h19l-9.5 14z" fill="none" stroke="#0f0" stroke-width="2"/>
<path d="M1732.5 1098.0h19l-9.5 14z" fill="none" stroke="#0f0" stroke-width="2"/>
<path d="M1798.5 1112.0h19l-9.5 14z" fill="none" stroke="#0f0" stroke-width="2"/>
<path d="M435.0 1009.9h2.6v2.4h-2.6zM480.0 1003.2h2.6v2.4h-2.6zM516.0 1006.0h2.6v2.4h-2.6zM723.0 1000.4h2.6v2.4h-2.6zM1194.4 1018.5h2.6v2.4h-2.6zM1201.2 1018.4h5v1.8h-5zM1218.9 1016.2h2.6v2.4h-2.6zM1237.4 1038.4h5v1.8h-5zM1244.8 1044.7h5v1.8h-5zM1260.6 1041.8l3 5.2h-2.2l-2-3.6zM1265.1 1042.6h5v1.8h-5zM1270.9 1043.9l3 5.2h-2.2l-2-3.6zM1288.7 1037.9l3 5.2h-2.2l-2-3.6zM1410.4 1056.8l3 5.2h-2.2l-2-3.6zM1427.4 1048.5h5v1.8h-5zM1444.8 1047.6h2.6v2.4h-2.6zM1457.4 1046.1h2.6v2.4h-2.6zM1463.2 1049.7l3 5.2h-2.2l-2-3.6zM1471.8 1070.2h2.6v2.4h-2.6zM1501.0 1070.0h2.6v2.4h-2.6zM1505.6 1080.5l3 5.2h-2.2l-2-3.6zM1511.4 1086.2h2.6v2.4h-2.6zM1517.5 1058.5l3 5.2h-2.2l-2-3.6zM1521.9 1051.9h5v1.8h-5zM1525.9 1068.4h5v1.8h-5zM1532.6 1079.0h2.6v2.4h-2.6zM1539.4 1082.5l3 5.2h-2.2l-2-3.6zM1545.0 1058.3l3 5.2h-2.2l-2-3.6zM1550.7 1070.5h2.6v2.4h-2.6zM1555.8 1097.3h2.6v2.4h-2.6zM1560.9 1066.5l3 5.2h-2.2l-2-3.6zM1566.2 1084.3l3 5.2h-2.2l-2-3.6zM1571.9 1066.7l3 5.2h-2.2l-2-3.6zM1577.3 1062.0h5v1.8h-5zM1584.2 1076.7h2.6v2.4h-2.6zM1588.6 1079.0l3 5.2h-2.2l-2-3.6zM1594.3 1066.1h5v1.8h-5zM1601.2 1060.7l3 5.2h-2.2l-2-3.6zM1606.0 1065.8h2.6v2.4h-2.6zM1610.4 1069.1h2.6v2.4h-2.6zM1614.6 1076.7h2.6v2.4h-2.6zM1620.0 1077.4h5v1.8h-5zM1626.8 1076.4l3 5.2h-2.2l-2-3.6zM1632.7 1073.7l3 5.2h-2.2l-2-3.6zM1638.3 1076.2h5v1.8h-5zM1642.4 1084.4l3 5.2h-2.2l-2-3.6zM1647.2 1083.6h5v1.8h-5zM1651.5 1087.3h5v1.8h-5zM1656.1 1072.1h2.6v2.4h-2.6zM1661.6 1061.5h2.6v2.4h-2.6zM1667.2 1084.4h5v1.8h-5zM1671.2 1065.8h5v1.8h-5zM1676.5 1086.3l3 5.2h-2.2l-2-3.6zM1681.1 1066.6l3 5.2h-2.2l-2-3.6zM1688.2 1092.8h5v1.8h-5zM1692.9 1083.0l3 5.2h-2.2l-2-3.6zM1697.0 1061.5h2.6v2.4h-2.6zM1701.1 1071.1h5v1.8h-5zM1706.0 1063.5h5v1.8h-5zM1711.8 1076.1h5v1.8h-5zM1716.1 1073.0l3 5.2h-2.2l-2-3.6zM1722.2 1084.3h5v1.8h-5zM1726.5 1086.0h5v1.8h-5zM1730.8 1085.6h2.6v2.4h-2.6zM1735.3 1095.5h2.6v2.4h-2.6zM1740.0 1103.8h2.6v2.4h-2.6zM1746.7 1073.3h2.6v2.4h-2.6zM1750.7 1089.3l3 5.2h-2.2l-2-3.6zM1757.5 1103.9h2.6v2.4h-2.6zM1761.8 1104.3h2.6v2.4h-2.6zM1766.1 1106.6l3 5.2h-2.2l-2-3.6zM1770.1 1102.6h5v1.8h-5zM1777.6 1102.0l3 5.2h-2.2l-2-3.6zM1781.5 1097.4h5v1.8h-5zM1788.6 1092.2h2.6v2.4h-2.6zM1792.9 1111.3h5v1.8h-5zM1796.8 1112.1l3 5.2h-2.2l-2-3.6zM1800.6 1099.4l3 5.2h-2.2l-2-3.6zM1806.2 1107.7h2.6v2.4h-2.6zM1812.2 1099.7l3 5.2h-2.2l-2-3.6zM1817.5 1106.5h2.6v2.4h-2.6zM1823.5 1125.8l3 5.2h-2.2l-2-3.6zM1830.5 1129.9h5v1.8h-5zM1837.8 1105.8h5v1.8h-5zM1845.2 1105.5h2.6v2.4h-2.6zM1851.7 1120.4l3 5.2h-2.2l-2-3.6zM1855.7 1117.0l3 5.2h-2.2l-2-3.6zM1862.3 1116.0h5v1.8h-5zM1866.5 1118.6h2.6v2.4h-2.6zM1870.1 1128.2h5v1.8h-5zM1873.8 1141.4l3 5.2h-2.2l-2-3.6zM1878.6 1129.3h5v1.8h-5zM1882.4 1125.0h2.6v2.4h-2.6zM1888.7 1134.8h2.6v2.4h-2.6zM1892.7 1120.9l3 5.2h-2.2l-2-3.6zM1897.8 1119.5l3 5.2h-2.2l-2-3.6zM1901.4 1120.4l3 5.2h-2.2l-2-3.6zM1928.6 1136.7h2.6v2.4h-2.6zM1957.0 1134.8l3 5.2h-2.2l-2-3.6zM1962.0 1138.2h5v1.8h-5zM1975.7 1139.8h5v1.8h-5zM1979.4 1141.6l3 5.2h-2.2l-2-3.6zM1983.1 1136.5h5v1.8h-5z" fill="#fff"/>
</g>
<g id="boxes">
<rect x="401.3" y="627.8" width="622.4" height="176.5" fill="#fff" stroke="#ececec" stroke-width="2"/>
<rect x="1256.4" y="528.7" width="419.2" height="127.9" fill="#f2f2f2"/>
<rect x="1560.5" y="675.4" width="487.5" height="127.7" fill="#f2f2f2"/>
</g>
<g id="annot" fill="none">
<path d="M216.4 382.3A55.0 53.0 0 0 1 236.6 374.9 M246.7 374.2A55.0 53.0 0 0 1 269.5 379.5 M276.4 383.4A55.0 53.0 0 0 1 292.8 400.2 M296.3 406.9A55.0 53.0 0 0 1 300.5 428.6 M299.7 436.1A55.0 53.0 0 0 1 291.0 457.0 M285.7 463.3A55.0 53.0 0 0 1 267.3 475.9 M258.4 478.7A55.0 53.0 0 0 1 235.0 479.2 M226.0 476.7A55.0 53.0 0 0 1 206.3 464.4 M200.5 457.7A55.0 53.0 0 0 1 191.8 415.7 M195.0 406.2A55.0 53.0 0 0 1 208.0 388.4" stroke="#0c0c0c" stroke-width="6.2"/>
<path d="M222.8 991.7A55.6 53.2 0 0 1 244.2 983.4 M253.6 982.6A55.6 53.2 0 0 1 276.1 987.0 M284.9 991.6A55.6 53.2 0 0 1 301.4 1008.1 M305.2 1015.3A55.6 53.2 0 0 1 309.5 1036.4 M308.6 1045.4A55.6 53.2 0 0 1 299.6 1066.1 M294.5 1072.2A55.6 53.2 0 0 1 275.5 1084.8 M265.6 1087.8A55.6 53.2 0 0 1 244.7 1088.3 M233.3 1085.2A55.6 53.2 0 0 1 213.4 1072.2 M207.5 1065.2A55.6 53.2 0 0 1 199.7 1023.9 M202.5 1015.4A55.6 53.2 0 0 1 216.3 996.6" stroke="#0c0c0c" stroke-width="6.2"/>
<path d="M272.4 477.1L421.7 710.4L275.3 961.5" stroke="#4a7ebb" stroke-width="2" stroke-opacity=".9" stroke-linejoin="miter"/>
<path d="M275.1 962.2L299 948.5" stroke="#4a7ebb" stroke-width="2" stroke-opacity=".85"/>
<path d="M276.2 934.8L275.6 961" stroke="#4a7ebb" stroke-width="4.2" stroke-opacity=".6"/>
<path d="M1848 784.2L1805.6 855" stroke="#4a7ebb" stroke-width="2" stroke-opacity=".9"/>
<path d="M1805.4 855.3L1829 841.3" stroke="#4a7ebb" stroke-width="2" stroke-opacity=".85"/>
<path d="M1806.2 831L1806 854" stroke="#4a7ebb" stroke-width="4.6" stroke-opacity=".6"/>
<path d="M1276.3 626.4H1216" stroke="#4a7ebb" stroke-width="2" stroke-opacity=".9"/>
<path d="M1238 614L1215.4 626.4L1238 639.4" stroke="#4a7ebb" stroke-width="2" stroke-opacity=".85"/>
<path d="M1196.1 490V972" stroke="#4f81bd" stroke-width="10.4"/>
<path d="M1177.7 520.4L1196.1 489.2L1214.7 520.4" stroke="#4f81bd" stroke-width="10.4" stroke-linecap="round" stroke-linejoin="miter"/>
<path d="M1177.7 940.6L1196.1 973.2L1214.7 940.6" stroke="#4f81bd" stroke-width="10.4" stroke-linecap="round" stroke-linejoin="miter"/>
</g>
<g id="text">
<text class="ab" font-size="50.5" x="126.8" y="48.3" textLength="70.5" lengthAdjust="spacingAndGlyphs">0.0</text>
<text class="ab" font-size="50.5" x="108.8" y="205.9" textLength="88.6" lengthAdjust="spacingAndGlyphs">-0.2</text>
<text class="ab" font-size="50.5" x="108.8" y="363.5" textLength="86.7" lengthAdjust="spacingAndGlyphs">-0.4</text>
<text class="ab" font-size="50.5" x="108.8" y="521.0" textLength="88.4" lengthAdjust="spacingAndGlyphs">-0.6</text>
<text class="ab" font-size="50.5" x="108.8" y="678.6" textLength="88.1" lengthAdjust="spacingAndGlyphs">-0.8</text>
<text class="ab" font-size="50.5" x="108.8" y="836.2" textLength="88.6" lengthAdjust="spacingAndGlyphs">-1.0</text>
<text class="ab" font-size="50.5" x="108.8" y="993.8" textLength="88.6" lengthAdjust="spacingAndGlyphs">-1.2</text>
<text class="ab" font-size="50.5" x="108.8" y="1151.3" textLength="86.7" lengthAdjust="spacingAndGlyphs">-1.4</text>
<text class="ab" font-size="50.5" x="108.8" y="1308.9" textLength="88.4" lengthAdjust="spacingAndGlyphs">-1.6</text>
<text class="ab" font-size="50.5" x="108.8" y="1466.5" textLength="88.1" lengthAdjust="spacingAndGlyphs">-1.8</text>
<text class="ab" font-size="50.5" x="227.0" y="1538.0" textLength="27.5" lengthAdjust="spacingAndGlyphs">0</text>
<text class="ab" font-size="50.5" x="451.5" y="1538.0" textLength="79.9" lengthAdjust="spacingAndGlyphs">500</text>
<text class="ab" font-size="50.5" x="687.6" y="1538.0" textLength="109.5" lengthAdjust="spacingAndGlyphs">1000</text>
<text class="ab" font-size="50.5" x="936.5" y="1538.0" textLength="111.3" lengthAdjust="spacingAndGlyphs">1500</text>
<text class="ab" font-size="50.5" x="1186.6" y="1538.0" textLength="110.7" lengthAdjust="spacingAndGlyphs">2000</text>
<text class="ab" font-size="50.5" x="1435.8" y="1538.0" textLength="111.3" lengthAdjust="spacingAndGlyphs">2500</text>
<text class="ab" font-size="50.5" x="1687.4" y="1538.0" textLength="110.7" lengthAdjust="spacingAndGlyphs">3000</text>
<text class="ab" font-size="50.5" x="1937.0" y="1538.0" textLength="112.8" lengthAdjust="spacingAndGlyphs">3500</text>
<text class="ab" font-size="50.3" transform="translate(1772.0 391.9) scale(1 1.045)" textLength="275.0" lengthAdjust="spacingAndGlyphs">AA 2024-T3</text>
<text class="ab" font-size="50.3" transform="translate(1516.1 926.9) scale(1 1.045)" textLength="529.4" lengthAdjust="spacingAndGlyphs">MgRP Coated AA2024</text>
<text class="ab" font-size="50.3" transform="translate(1752.5 1259.7) scale(1 1.045)" textLength="283.9" lengthAdjust="spacingAndGlyphs">Magnesium</text>
<text class="ab" font-size="61.7" transform="translate(743.3 1642.2) scale(1 1.04)" x="-4.1" y="0" letter-spacing="0.68">Duration of Exposure (sec)</text>
<text class="ar" font-size="64.5" transform="translate(63.4 1395.5) rotate(-90) scale(1 1.04)" x="-3.1" y="0" letter-spacing="2.30" stroke="#000" stroke-width="1.4">Open Circuit Potential (Volt vs Ag/AgCl)</text>
<text class="cb" font-size="56.5" x="538.6" y="86.8" textLength="231.5" lengthAdjust="spacingAndGlyphs">Cathodic</text>
<text class="cb" font-size="56.5" x="781.1" y="86.8" textLength="273.6" lengthAdjust="spacingAndGlyphs">Protection</text>
<text class="cb" font-size="56.5" x="1068.4" y="86.8" textLength="48.6" lengthAdjust="spacingAndGlyphs">of</text>
<text class="cb" font-size="56.5" x="1134.7" y="86.8" textLength="286.6" lengthAdjust="spacingAndGlyphs">AA2024-T3</text>
<text class="cb" font-size="56.5" x="1449.3" y="86.8" textLength="64.4" lengthAdjust="spacingAndGlyphs">by</text>
<text class="cb" font-size="56.5" x="1527.1" y="86.8" textLength="201.0" lengthAdjust="spacingAndGlyphs">Mg-rich</text>
<text class="cb" font-size="56.5" x="1743.3" y="86.8" textLength="180.2" lengthAdjust="spacingAndGlyphs">Primer</text>
<text class="cb" font-size="44" x="952.3" y="150.8" textLength="228.7" lengthAdjust="spacingAndGlyphs">AA2024-T3</text>
<text class="cb" font-size="44" x="1200.0" y="150.8" textLength="27.4" lengthAdjust="spacingAndGlyphs">=</text>
<text class="cb" font-size="44" x="1247.1" y="145.1" textLength="23.9" lengthAdjust="spacingAndGlyphs">~</text>
<text class="cb" font-size="44" x="1290.0" y="150.8" textLength="15.9" lengthAdjust="spacingAndGlyphs">-</text>
<text class="cb" font-size="44" x="1312.6" y="150.8" textLength="61.9" lengthAdjust="spacingAndGlyphs">0.5</text>
<text class="cb" font-size="44" x="1385.1" y="150.8" textLength="33.6" lengthAdjust="spacingAndGlyphs">V</text>
<text class="cb" font-size="44" x="665.8" y="210.4" textLength="163.3" lengthAdjust="spacingAndGlyphs">Mg-rich</text>
<text class="cb" font-size="44" x="837.3" y="210.4" textLength="136.8" lengthAdjust="spacingAndGlyphs">primer</text>
<text class="cb" font-size="44" x="985.6" y="210.4" textLength="139.5" lengthAdjust="spacingAndGlyphs">coated</text>
<text class="cb" font-size="44" x="1136.9" y="210.4" textLength="59.2" lengthAdjust="spacingAndGlyphs">AA</text>
<text class="cb" font-size="44" x="1207.3" y="210.4" textLength="165.9" lengthAdjust="spacingAndGlyphs">2024-T3</text>
<text class="cb" font-size="44" x="1392.9" y="210.4" textLength="25.4" lengthAdjust="spacingAndGlyphs">=</text>
<text class="cb" font-size="44" x="1435.5" y="204.7" textLength="25.9" lengthAdjust="spacingAndGlyphs">~</text>
<text class="cb" font-size="44" x="1480.3" y="210.4" textLength="16.8" lengthAdjust="spacingAndGlyphs">-</text>
<text class="cb" font-size="44" x="1503.0" y="210.4" textLength="64.5" lengthAdjust="spacingAndGlyphs">0.7</text>
<text class="cb" font-size="44" x="1579.2" y="210.4" textLength="15.7" lengthAdjust="spacingAndGlyphs">-</text>
<text class="cb" font-size="44" x="1604.0" y="210.4" textLength="63.6" lengthAdjust="spacingAndGlyphs">1.2</text>
<text class="cb" font-size="44" x="1676.5" y="210.4" textLength="31.1" lengthAdjust="spacingAndGlyphs">V</text>
<text class="cb" font-size="44" x="985.8" y="268.5" textLength="68.7" lengthAdjust="spacingAndGlyphs">Mg</text>
<text class="cb" font-size="44" x="1061.5" y="268.5" textLength="26.3" lengthAdjust="spacingAndGlyphs">=</text>
<text class="cb" font-size="44" x="1108.4" y="262.8" textLength="25.9" lengthAdjust="spacingAndGlyphs">~</text>
<text class="cb" font-size="44" x="1156.0" y="268.5" textLength="15.9" lengthAdjust="spacingAndGlyphs">-</text>
<text class="cb" font-size="44" x="1180.0" y="268.5" textLength="63.3" lengthAdjust="spacingAndGlyphs">1.3</text>
<text class="cb" font-size="44" x="1257.1" y="268.5" textLength="16.0" lengthAdjust="spacingAndGlyphs">-</text>
<text class="cb" font-size="44" x="1280.4" y="268.5" textLength="62.9" lengthAdjust="spacingAndGlyphs">1.5</text>
<text class="cb" font-size="44" x="1352.2" y="268.5" textLength="31.8" lengthAdjust="spacingAndGlyphs">V</text>
<text class="cb" font-size="37.5" x="424.7" y="677.5" textLength="81.6" lengthAdjust="spacingAndGlyphs">Shift</text>
<text class="cb" font-size="37.5" x="517.5" y="677.5" textLength="34.0" lengthAdjust="spacingAndGlyphs">of</text>
<text class="cb" font-size="37.5" x="562.2" y="677.5" textLength="134.5" lengthAdjust="spacingAndGlyphs">AA2024</text>
<text class="cb" font-size="37.5" x="705.8" y="677.5" textLength="61.3" lengthAdjust="spacingAndGlyphs">–T3</text>
<text class="cb" font-size="37.5" x="789.9" y="677.5" textLength="73.4" lengthAdjust="spacingAndGlyphs">OCP</text>
<text class="cb" font-size="37.5" x="874.8" y="677.5" textLength="124.9" lengthAdjust="spacingAndGlyphs">toward</text>
<text class="cb" font-size="37.5" x="439.6" y="727.5" textLength="93.7" lengthAdjust="spacingAndGlyphs">more</text>
<text class="cb" font-size="37.5" x="542.6" y="727.5" textLength="155.2" lengthAdjust="spacingAndGlyphs">negative</text>
<text class="cb" font-size="37.5" x="706.1" y="727.5" textLength="160.6" lengthAdjust="spacingAndGlyphs">potential</text>
<text class="cb" font-size="37.5" x="872.7" y="727.5" textLength="45.3" lengthAdjust="spacingAndGlyphs">by</text>
<text class="cb" font-size="37.5" x="926.5" y="727.5" textLength="57.6" lengthAdjust="spacingAndGlyphs">Mg</text>
<text class="cb" font-size="37.5" x="550.9" y="776.5" textLength="152.7" lengthAdjust="spacingAndGlyphs">particles</text>
<text class="cb" font-size="37.5" x="709.1" y="776.5" textLength="34.6" lengthAdjust="spacingAndGlyphs">in</text>
<text class="cb" font-size="37.5" x="753.5" y="776.5" textLength="118.5" lengthAdjust="spacingAndGlyphs">primer</text>
<text class="cb" font-size="35.5" x="1305.7" y="580.4" textLength="108.6" lengthAdjust="spacingAndGlyphs">Range</text>
<text class="cb" font-size="35.5" x="1423.7" y="580.4" textLength="35.1" lengthAdjust="spacingAndGlyphs">of</text>
<text class="cb" font-size="35.5" x="1468.1" y="580.4" textLength="161.6" lengthAdjust="spacingAndGlyphs">Cathodic</text>
<text class="cb" font-size="35.5" x="1371.5" y="630.2" textLength="192.1" lengthAdjust="spacingAndGlyphs">Protection</text>
<text class="cb" font-size="36" x="1582.4" y="727.0" textLength="111.2" lengthAdjust="spacingAndGlyphs">Mixed</text>
<text class="cb" font-size="36" x="1702.4" y="727.0" textLength="165.7" lengthAdjust="spacingAndGlyphs">Potential</text>
<text class="cb" font-size="36" x="1875.0" y="727.0" textLength="36.2" lengthAdjust="spacingAndGlyphs">of</text>
<text class="cb" font-size="36" x="1918.6" y="727.0" textLength="104.1" lengthAdjust="spacingAndGlyphs">MgRP</text>
<text class="cb" font-size="36" x="1665.2" y="776.6" textLength="128.7" lengthAdjust="spacingAndGlyphs">Coated</text>
<text class="cb" font-size="36" x="1811.4" y="776.6" textLength="136.4" lengthAdjust="spacingAndGlyphs">AA2024</text>
</g>
</svg></body></html>
